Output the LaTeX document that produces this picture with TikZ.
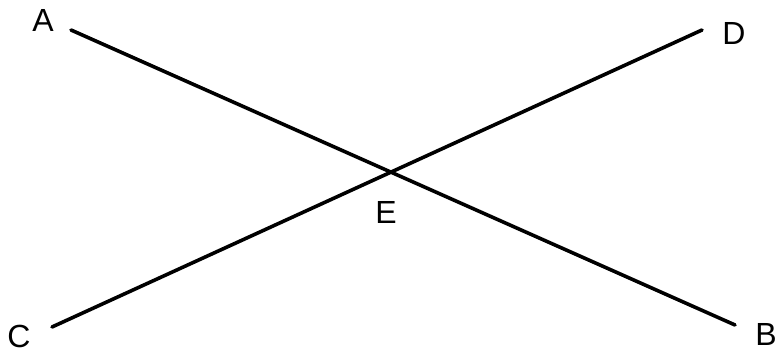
\documentclass[tikz,border=0pt]{standalone}
\usepackage{fontspec}
\setmainfont{Liberation Sans}
\usepackage{tikz}

\begin{document}
\begin{tikzpicture}[
    x=0.5pt, y=-0.5pt,
    pointlabel/.style={inner sep=0pt, font=\fontsize{16}{16}\selectfont},
    segment/.style={line width=1.8pt, black, line cap=round}
]
\useasboundingbox (0,0) rectangle (779,352);

\coordinate (a) at (71,30);
\coordinate (b) at (735,325);
\coordinate (c) at (52,327);
\coordinate (d) at (702,30);

\node[pointlabel] (la) at (43,20) {A};
\node[pointlabel] (lb) at (766,334) {B};
\node[pointlabel] (lc) at (19,336) {C};
\node[pointlabel] (ld) at (734,33) {D};
\node[pointlabel] (le) at (386,212) {E};

\draw[segment] (a) -- (b);
\draw[segment] (c) -- (d);

\end{tikzpicture}
\end{document}
